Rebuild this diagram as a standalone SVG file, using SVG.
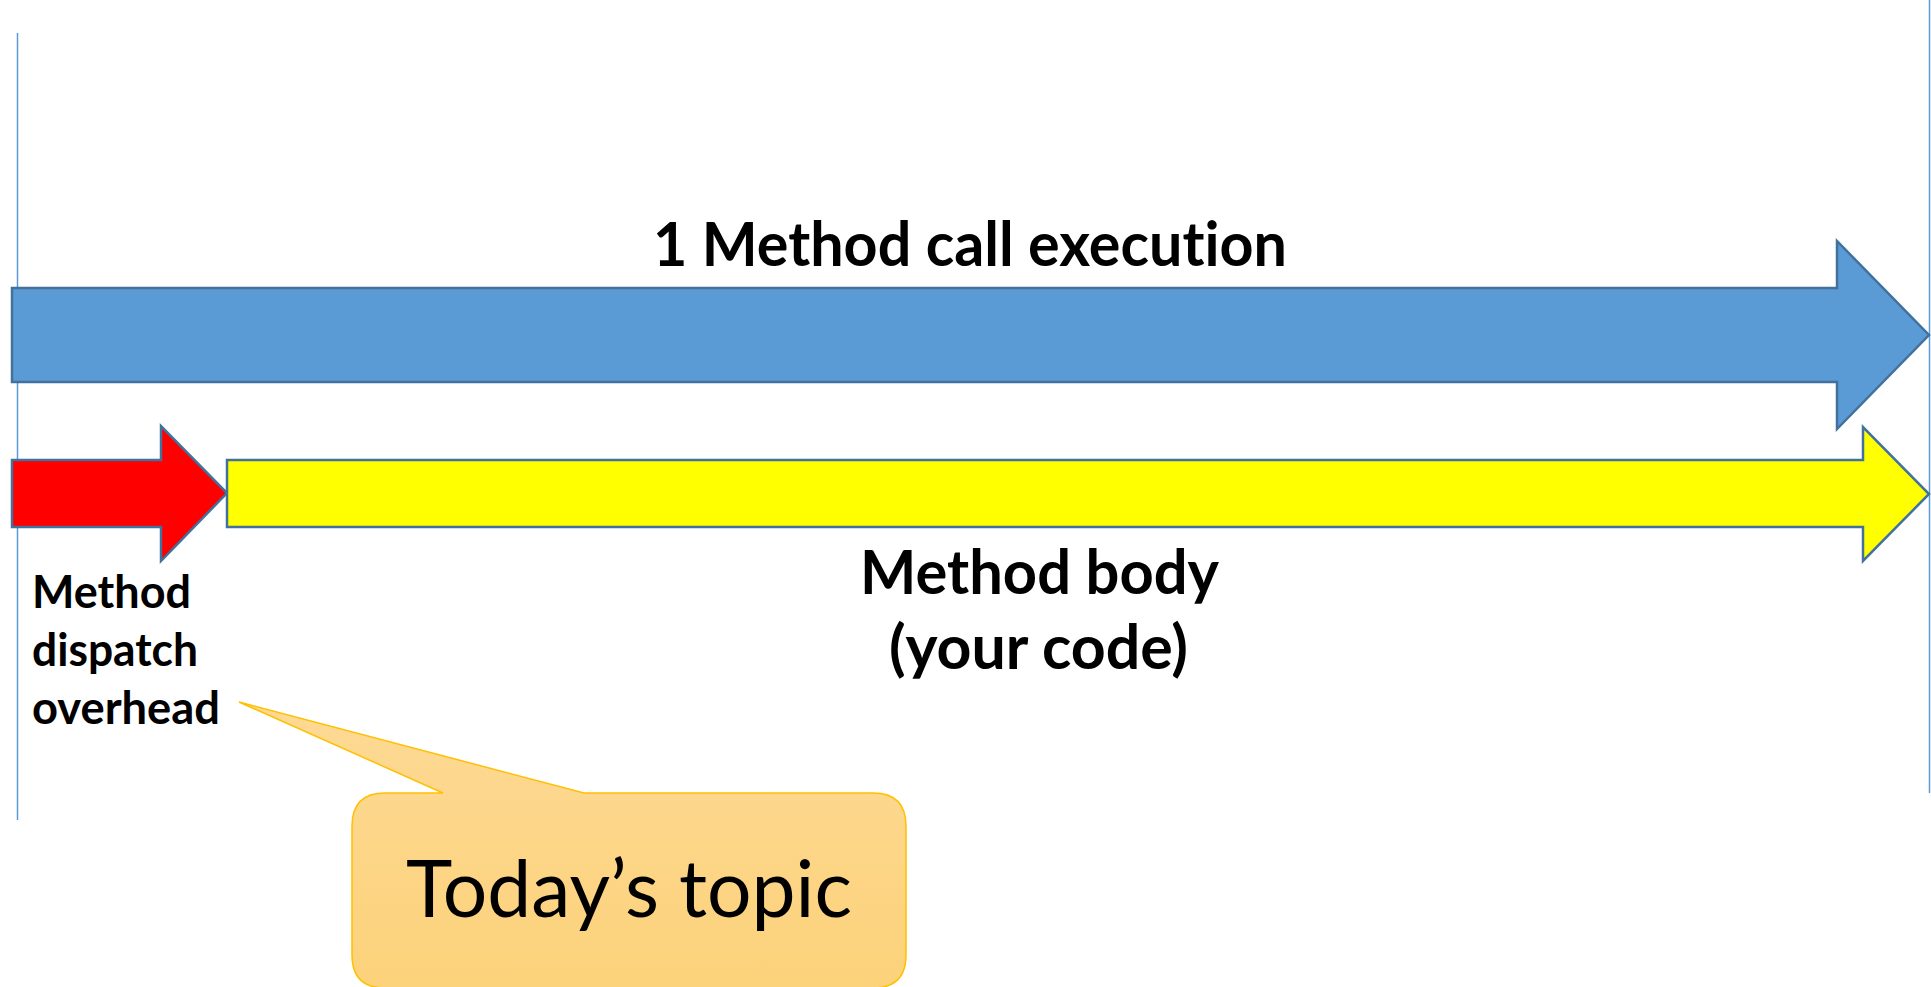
<svg xmlns="http://www.w3.org/2000/svg" width="1931" height="987" viewBox="0 0 1931 987">
  <defs>
    <style>
      .guide { stroke: #5B9BD5; stroke-width: 1.5; fill: none; }
      .arrow { stroke: #41719C; stroke-width: 2.5; stroke-linejoin: miter; }
      .lbl { font-family: Lato, "Open Sans", "Liberation Sans", sans-serif; font-weight: bold; fill: #000; font-variant-ligatures: none; }
      .big { font-size: 62px; }
      .small { font-size: 46px; }
      .callout-text { font-family: Lato, "Open Sans", "Liberation Sans", sans-serif; font-size: 80px; fill: #000; font-variant-ligatures: none; }
    </style>
    <linearGradient id="calloutFill" x1="0" y1="0" x2="0" y2="1">
      <stop offset="0" stop-color="#FDD995"/>
      <stop offset="1" stop-color="#FCD27A"/>
    </linearGradient>
  </defs>

  <!-- timeline boundary lines -->
  <g id="boundaries">
    <line class="guide" x1="17.5" y1="33" x2="17.5" y2="820"/>
    <line class="guide" x1="1929.5" y1="0" x2="1929.5" y2="793"/>
  </g>

  <!-- dispatch overhead arrow -->
  <g id="dispatch">
    <path class="arrow" fill="#FF0000" d="M12,460 H161 V426 L227,493 L161,561 V527 H12 Z"/>
  </g>

  <!-- method body arrow -->
  <g id="body">
    <path class="arrow" fill="#FFFF00" d="M227,460 H1863 V427 L1929,494 L1863,561 V527 H227 Z"/>
  </g>

  <!-- whole call arrow -->
  <g id="call">
    <path class="arrow" fill="#5B9BD5" d="M12,288 H1837 V241 L1929,335 L1837,429 V382 H12 Z"/>
  </g>

  <!-- labels -->
  <g id="labels">
    <text class="lbl big" x="653" y="266" textLength="634" lengthAdjust="spacingAndGlyphs">1 Method call execution</text>
    <text class="lbl big" x="860" y="594" textLength="359" lengthAdjust="spacingAndGlyphs">Method body</text>
    <text class="lbl big" x="889" y="669" textLength="299" lengthAdjust="spacingAndGlyphs">(your code)</text>
    <text class="lbl small" x="32" y="608" textLength="159" lengthAdjust="spacingAndGlyphs">Method</text>
    <text class="lbl small" x="32" y="666" textLength="166" lengthAdjust="spacingAndGlyphs">dispatch</text>
    <text class="lbl small" x="32" y="724" textLength="188" lengthAdjust="spacingAndGlyphs">overhead</text>
  </g>

  <!-- callout bubble pointing at the dispatch label -->
  <g id="callout">
    <path fill="url(#calloutFill)" stroke="#FFC000" stroke-width="1.5"
          d="M385,793 H443 L239,702 L584,793 H873 Q906,793 906,826 V955 Q906,988 873,988 H385 Q352,988 352,955 V826 Q352,793 385,793 Z"/>
    <text class="callout-text" x="406" y="917" textLength="446" lengthAdjust="spacingAndGlyphs">Today’s topic</text>
  </g>
</svg>
